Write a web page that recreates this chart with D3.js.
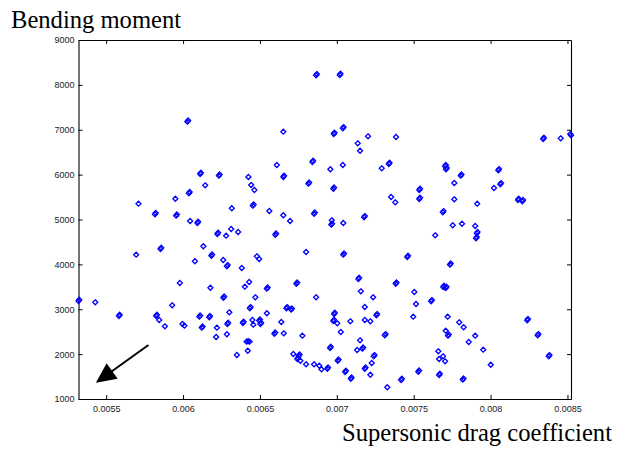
<!DOCTYPE html>
<html>
<head>
<meta charset="utf-8">
<script src="https://cdn.jsdelivr.net/npm/d3@7/dist/d3.min.js"></script>
<style>
  html, body { margin: 0; padding: 0; background: #fff; }
  svg { display: block; }
</style>
</head>
<body>
<svg id="chart" width="629" height="453"></svg>
<script>
// Design evaluations: supersonic drag coefficient vs. wing bending moment
const dragCoef = [
  0.006028,0.006111,0.006233,0.006144,0.006038,0.005950,0.005710,0.005817,0.005955,0.006046,
  0.006093,0.005320,0.005429,0.005583,0.005695,0.005853,0.005825,0.005845,0.005882,0.005979,
  0.005929,0.005996,0.006009,0.006077,0.006132,0.006184,0.006223,0.006280,0.006261,0.006285,
  0.006178,0.006262,0.006301,0.006106,0.006170,0.006122,0.006220,0.006288,0.006285,0.006215,
  0.006865,0.007019,0.006652,0.006980,0.007039,0.007136,0.007151,0.007203,0.007385,0.006610,
  0.006841,0.006958,0.007039,0.007292,0.007338,0.006425,0.006652,0.006443,0.006464,0.006815,
  0.006977,0.007536,0.007536,0.007353,0.007380,0.006317,0.006454,0.006561,0.006652,0.006696,
  0.006852,0.006967,0.006964,0.007042,0.007177,0.006313,0.006358,0.006600,0.006800,0.007042,
  0.006382,0.006480,0.006495,0.006430,0.006402,0.006545,0.006737,0.007140,0.007383,0.007458,
  0.006470,0.006865,0.007156,0.007236,0.007504,0.007515,0.006434,0.006545,0.006672,0.006703,
  0.006982,0.007182,0.007257,0.007497,0.006389,0.006451,0.006457,0.006495,0.006503,0.006639,
  0.006977,0.007003,0.007088,0.007182,0.007218,0.006594,0.006655,0.006776,0.007026,0.007312,
  0.006413,0.006421,0.006350,0.006956,0.007151,0.007132,0.007166,0.007240,0.007227,0.006717,
  0.006753,0.006743,0.006763,0.006800,0.006852,0.006886,0.006900,0.006938,0.007006,0.007054,
  0.007091,0.007182,0.007218,0.007328,0.007418,0.007530,0.008342,0.008456,0.008523,0.007704,
  0.007710,0.007806,0.008050,0.007764,0.008063,0.008022,0.007764,0.007913,0.008178,0.008206,
  0.007689,0.007754,0.007814,0.007900,0.007640,0.007910,0.007905,0.007736,0.007692,0.007708,
  0.007613,0.007721,0.007796,0.007825,0.007708,0.007723,0.007900,0.007858,0.007952,0.008238,
  0.008306,0.008378,0.007660,0.007691,0.007665,0.007704,0.008001,0.007665,0.007819,
  // near-coincident repeat evaluations
  0.006033,0.006116,0.006238,0.006043,0.005822,0.005960,0.006098,0.005325,0.005588,0.005858,
  0.005830,0.006189,0.006228,0.006290,0.006267,0.006111,0.006175,0.006127,0.006293,0.006870,
  0.007024,0.006985,0.007044,0.006846,0.007343,0.006657,0.006820,0.006982,0.007541,0.007541,
  0.006459,0.006857,0.006969,0.007182,0.006605,0.007047,0.006550,0.006742,0.007145,0.007388,
  0.007463,0.006439,0.006677,0.006708,0.006987,0.007262,0.006394,0.006500,0.006508,0.006982,
  0.006599,0.007317,0.006423,0.006433,0.006961,0.007171,0.007245,0.006758,0.006748,0.006943,
  0.007011,0.007059,0.007096,0.007187,0.007423,0.007535,0.008347,0.008518,0.007709,0.007715,
  0.007811,0.008055,0.008068,0.008183,0.008211,0.007694,0.007915,0.007910,0.007741,0.007697,
  0.007713,0.007618,0.007728,0.008243,0.008311,0.008383,0.007670,0.007824
];
const bendingMoment = [
  7180,6014,5976,5762,5584,5463,5352,5116,5085,4967,
  4922,3184,3155,2850,4216,4343,2850,2760,2620,3585,
  3088,2671,2634,4069,4403,4193,4677,4639,4098,3957,
  3480,3257,2932,2834,2821,2589,2589,2671,2442,2382,
  8213,8220,6957,6905,7032,6698,6533,6854,6838,6214,
  6281,6119,6214,6141,6237,5947,5947,5769,5657,5798,
  5686,5657,5457,5501,5383,5250,5308,5189,5094,4967,
  5129,4982,4884,4922,5049,4788,4721,4661,4276,4216,
  3919,4180,4120,3607,3503,3458,3569,3674,3569,4164,
  3266,3266,3400,3266,3384,3117,3021,2910,3021,2990,
  2894,3050,2865,2834,2694,2760,2656,2745,2671,2716,
  2738,2687,2731,2760,2731,2455,2464,2411,2493,2419,
  2277,2076,1981,2137,2308,2092,2121,1951,1802,2003,
  1965,1891,1853,1773,1773,1742,1662,1675,1853,1602,
  1452,1675,1541,1261,1423,1608,6794,6809,6876,6186,
  6119,5976,6096,5813,5784,5702,5450,5352,5435,5406,
  5160,4871,4906,4855,4648,4692,4581,3993,3496,3474,
  3177,2834,2709,2598,2522,2411,2411,2270,2099,2754,
  2419,1951,2063,1951,1891,1840,1764,1535,1430,
  // near-coincident repeat evaluations
  7208,6042,6004,5612,5144,5113,4950,3212,2878,4371,
  2878,4221,4705,3985,3285,2862,2849,2617,2699,8241,
  8248,6933,7060,6309,6265,5975,5826,5714,5685,5485,
  5336,5157,4912,5077,4689,4244,3486,3597,3702,3597,
  4192,3049,3049,3018,2922,2893,2722,2773,2699,2766,
  2483,2447,2290,2277,2165,2149,1979,1993,1919,1703,
  1881,1630,1480,1703,1451,1636,6822,6904,6214,6147,
  6004,6124,5812,5463,5434,5188,4720,4609,4021,3524,
  3502,3205,2439,2782,2447,1979,1563,1458
];

const xTicks = [0.0055, 0.006, 0.0065, 0.007, 0.0075, 0.008, 0.0085];
const xTickLabels = ["0.0055", "0.006", "0.0065", "0.007", "0.0075", "0.008", "0.0085"];
const yTicks = [1000, 2000, 3000, 4000, 5000, 6000, 7000, 8000, 9000];
const yTickLabels = ["1000", "2000", "3000", "4000", "5000", "6000", "7000", "8000", "9000"];
const xDomain = [0.00532, 0.008523];
const yDomain = [1000, 9000];

// Direction of improvement: toward lower drag and lower bending moment
const arrowFrom = [0.005775, 2203];
const arrowTo = [0.005433, 1363];

const xLabel = "Supersonic drag coefficient";
const yLabel = "Bending moment";

const svg = d3.select("#chart");
const plot = { left: 78.5, right: 571, top: 40, bottom: 399 };

const x = d3.scaleLinear().domain(xDomain).range([plot.left, plot.right]);
const y = d3.scaleLinear().domain(yDomain).range([plot.bottom, plot.top]);

svg.append("rect").attr("width", 629).attr("height", 453).attr("fill", "#fff");

const tickFont = "'Liberation Sans', Arial, Helvetica, sans-serif";
const labelFont = "'Liberation Serif', 'Times New Roman', Times, serif";

function styleAxis(g) {
  g.select(".domain").attr("stroke", "#000").attr("stroke-width", 1.1);
  g.selectAll(".tick line").attr("stroke", "#000").attr("stroke-width", 1);
  g.selectAll(".tick text")
    .attr("font-family", tickFont)
    .attr("font-size", 9)
    .attr("fill", "#222");
}

// bottom axis with labels
svg.append("g")
  .attr("transform", `translate(0,${plot.bottom})`)
  .call(d3.axisBottom(x).tickValues(xTicks)
    .tickFormat((d, i) => xTickLabels[i])
    .tickSizeInner(-4).tickSizeOuter(0).tickPadding(7))
  .call(styleAxis);

// top axis, ticks only
svg.append("g")
  .attr("transform", `translate(0,${plot.top})`)
  .call(d3.axisTop(x).tickValues(xTicks).tickFormat("")
    .tickSizeInner(-4).tickSizeOuter(0))
  .call(styleAxis);

// left axis with labels
svg.append("g")
  .attr("transform", `translate(${plot.left},0)`)
  .call(d3.axisLeft(y).tickValues(yTicks)
    .tickFormat((d, i) => yTickLabels[i])
    .tickSizeInner(-4).tickSizeOuter(0).tickPadding(4))
  .call(styleAxis);

// right axis, ticks only
svg.append("g")
  .attr("transform", `translate(${plot.right},0)`)
  .call(d3.axisRight(y).tickValues(yTicks).tickFormat("")
    .tickSizeInner(-4).tickSizeOuter(0))
  .call(styleAxis);

// diamond markers
const points = dragCoef.map((d, i) => ({ x: d, y: bendingMoment[i] }));
const r = 2.5;
svg.append("g")
  .selectAll("path")
  .data(points)
  .join("path")
  .attr("d", d => {
    const cx = x(d.x), cy = y(d.y);
    return `M${cx},${cy - r}L${cx + r},${cy}L${cx},${cy + r}L${cx - r},${cy}Z`;
  })
  .attr("fill", "none")
  .attr("stroke", "#0000ff")
  .attr("stroke-width", 1.3);

// arrow annotation
const ax0 = x(arrowFrom[0]), ay0 = y(arrowFrom[1]);
const ax1 = x(arrowTo[0]), ay1 = y(arrowTo[1]);
const ang = Math.atan2(ay1 - ay0, ax1 - ax0);
const headLen = 20, headHalf = 9.5;
const bx = ax1 - headLen * Math.cos(ang), by = ay1 - headLen * Math.sin(ang);
svg.append("line")
  .attr("x1", ax0).attr("y1", ay0)
  .attr("x2", bx + 2 * Math.cos(ang)).attr("y2", by + 2 * Math.sin(ang))
  .attr("stroke", "#000").attr("stroke-width", 2);
svg.append("path")
  .attr("d", `M${ax1},${ay1}L${bx - headHalf * Math.sin(ang)},${by + headHalf * Math.cos(ang)}L${bx + headHalf * Math.sin(ang)},${by - headHalf * Math.cos(ang)}Z`)
  .attr("fill", "#000");

// axis titles
svg.append("text")
  .attr("x", 11).attr("y", 28)
  .attr("font-family", labelFont).attr("font-size", 24.6)
  .attr("fill", "#000")
  .text(yLabel);
svg.append("text")
  .attr("x", 612).attr("y", 441)
  .attr("text-anchor", "end")
  .attr("font-family", labelFont).attr("font-size", 24.6)
  .attr("fill", "#000")
  .text(xLabel);
</script>
</body>
</html>
